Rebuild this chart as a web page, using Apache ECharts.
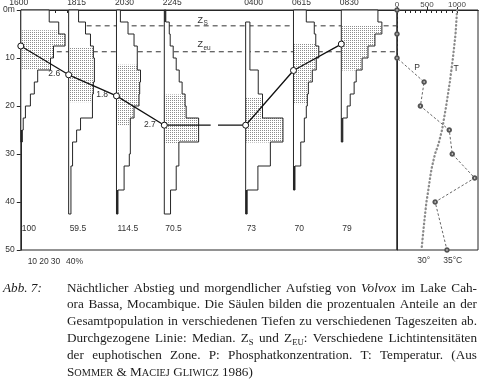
<!DOCTYPE html>
<html><head><meta charset="utf-8">
<script src="https://cdn.jsdelivr.net/npm/echarts@6.0.0/dist/echarts.min.js"></script>
<style>html,body{margin:0;padding:0;background:#fff;}#chart{width:480px;height:381px;}</style>
</head><body><div id="chart"></div>
<script>
// ---------------- data ----------------
const times = ['1600', '1815', '2030', '2245', '0400', '0615', '0830'];
const totals = ['100', '59.5', '114.5', '70.5', '73', '70', '79'];
const binSize = 2.5; // m per depth class
// share of population per 2.5 m depth class, from 0 m downwards (scale units = %)
const share1600 = [24.6, 32.8, 38.3, 28.3, 25.7, 14.6, 11.7, 8.3, 4.0, 2.1, 1.3];
const share1815 = [8.6, 14.6, 18.9, 21.4, 22.3, 22.3, 21.4, 20.6, 20.6, 10.3, 6.9, 3.4, 3.4, 2.0, 2.0, 2.0, 2.0];
const share2030 = [3.4, 10.0, 15.2, 18.0, 18.0, 20.8, 20.1, 19.5, 15.2, 12.0, 12.0, 12.0, 11.1, 6.6, 6.6, 1.3, 1.3];
const share2245 = [1.3, 4.3, 5.1, 7.7, 10.3, 12.9, 15.4, 18.0, 18.9, 29.7, 29.7, 12.6, 12.6, 10.3, 10.3, 5.4, 5.4];
const share0400 = [0, 3.7, 3.7, 3.7, 3.7, 10.9, 10.9, 14.6, 14.6, 32.3, 32.3, 21.4, 21.4, 10.6, 10.6, 1.3, 1.3];
const share0615 = [11.1, 18.0, 19.3, 21.9, 19.7, 16.3, 12.9, 12.0, 11.1, 9.4, 9.4, 6.3, 6.3, 1.3, 1.3];
const share0830 = [31.7, 35.1, 29.1, 23.1, 18.0, 12.9, 11.1, 7.7, 5.1, 1.3, 1.3];
const quartileDepths = [[4.2, 12.4], [7.9, 19.2], [11.4, 24.1], [17.6, 27.8], [18.2, 27.6], [7.0, 19.6], [3.3, 12.6]];
const medianDepth = [7.5, 13.5, 17.9, 24.0, 24.0, 12.6, 7.1];
const medianRate = ['', '2.6', '1.8', '2.7', '', '', ''];
const zsDepth = 3.3;
const zeuDepth = 8.7;
const phosDepth = [0, 5, 10, 15, 20, 25, 30, 35, 40, 50];
const phosValue = [0, 0, 0, 452, 390, 871, 921, 1295, 636, 833];
const tempDepth = [0, 5, 10, 15, 20, 25, 28, 30, 33, 35, 38, 40, 45, 50];
const tempValue = [37.0, 36.7, 36.2, 35.6, 34.9, 34.1, 33.4, 32.75, 32.1, 31.8, 31.4, 31.1, 30.6, 30.15];
const pctTicks = [10, 20, 30, 40];
const phosTicks = [0, 500, 1000];
const tempTicks = [27, 28, 29, 30, 31, 32, 33, 34, 35, 36, 37];
const tempLabels = ['30°', '35°C'];
const capLines = [
  'Nächtlicher Abstieg und morgendlicher Aufstieg von *Volvox* im Lake Cah-',
  'ora Bassa, Mocambique. Die Säulen bilden die prozentualen Anteile an der',
  'Gesamtpopulation in verschiedenen Tiefen zu verschiedenen Tageszeiten ab.',
  'Durchgezogene Linie: Median. Z_S und Z_EU: Verschiedene Lichtintensitäten',
  'der euphotischen Zone. P: Phosphatkonzentration. T: Temperatur. (Aus',
  '^Sommer & ^Maciej ^Gliwicz 1986)'
];
const capLabel = 'Abb. 7:';

// ---------------- layout helpers ----------------
const profiles = [share1600, share1815, share2030, share2245, share0400, share0615, share0830];
const colStep = 41.4, nightGap = 29;
function colBase(i) { return i * colStep + (i >= 4 ? nightGap : 0); }
const X_MAX = 325.6;
const SANS = '"Liberation Sans", Arial, sans-serif';
const INK = '#262626';

// stipple pattern (fine dots)
const pc = document.createElement('canvas');
pc.width = 2; pc.height = 2;
(function () {
  const g = pc.getContext('2d');
  g.fillStyle = '#fff'; g.fillRect(0, 0, 2, 2);
  g.fillStyle = '#8c8c8c';
  g.fillRect(0, 0, 1, 1);
})();
const stipple = { image: pc, repeat: 'repeat' };

function txt(x, y, text, size, align, extra) {
  return Object.assign({
    type: 'text', x: x, y: y, silent: true,
    style: { text: text, font: size + 'px ' + SANS, fill: '#333', align: align, verticalAlign: 'middle', textAlign: align, textVerticalAlign: 'middle' }
  }, extra || {});
}

function renderColumn(params, api) {
  const i = params.dataIndex;
  const base = colBase(i);
  const w = profiles[i];
  const ch = [];
  let first = 0; while (first < w.length && !(w[first] > 0)) first++;
  let last = w.length - 1; while (last >= 0 && !(w[last] > 0)) last--;
  for (let b = first; b <= last; b++) {
    const p0 = api.coord([base, b * binSize]);
    const p1 = api.coord([base + w[b], (b + 1) * binSize]);
    ch.push({ type: 'rect', shape: { x: p0[0], y: p0[1], width: p1[0] - p0[0], height: p1[1] - p0[1] }, style: { fill: '#fff' } });
  }
  const q = quartileDepths[i];
  for (let b = first; b <= last; b++) {
    const s = Math.max(q[0], b * binSize), e = Math.min(q[1], (b + 1) * binSize);
    if (e > s) {
      const p0 = api.coord([base, s]);
      const p1 = api.coord([base + w[b], e]);
      ch.push({ type: 'rect', shape: { x: p0[0], y: p0[1], width: p1[0] - p0[0], height: p1[1] - p0[1] }, style: { fill: stipple } });
    }
  }
  const pts = [api.coord([base, first * binSize])];
  for (let b = first; b <= last; b++) {
    pts.push(api.coord([base + w[b], b * binSize]));
    pts.push(api.coord([base + w[b], (b + 1) * binSize]));
  }
  pts.push(api.coord([base, (last + 1) * binSize]));
  ch.push({ type: 'polygon', shape: { points: pts }, style: { fill: 'none', stroke: INK, lineWidth: 1 } });
  for (let b = first; b <= last; b++) {
    if (w[b] < 1.5) {
      const p0 = api.coord([base, b * binSize]);
      const p1 = api.coord([base + w[b], (b + 1) * binSize]);
      ch.push({ type: 'rect', shape: { x: p0[0], y: p0[1], width: Math.max(1.5, p1[0] - p0[0]), height: p1[1] - p0[1] }, style: { fill: '#222' } });
    }
  }
  const tp = api.coord([base, 0]);
  ch.push(txt(i === 0 ? tp[0] - 2 : tp[0] - 1.5, 2.5, times[i], 8.5, i === 0 ? 'center' : 'left'));
  const bp = api.coord([base, 45.5]);
  ch.push(txt(bp[0] + 1, bp[1], totals[i], 8.5, 'left'));
  return { type: 'group', children: ch };
}

const gapA = colBase(3) + 0.57 * (colBase(4) - colBase(3));
const gapB = colBase(3) + 0.66 * (colBase(4) - colBase(3));
function medPoint(i) {
  const item = { value: [colBase(i), medianDepth[i]] };
  if (medianRate[i]) item.label = { show: true, formatter: medianRate[i] };
  return item;
}
const medEvening = [0, 1, 2, 3].map(medPoint).concat([{ value: [gapA, medianDepth[3]], symbol: 'none' }]);
const medMorning = [{ value: [gapB, medianDepth[4]], symbol: 'none' }].concat([4, 5, 6].map(medPoint));
const medStyle = {
  type: 'line', xAxisIndex: 0, yAxisIndex: 0, z: 5, symbol: 'circle', symbolSize: 6,
  itemStyle: { color: '#fff', borderColor: '#111', borderWidth: 1 },
  lineStyle: { color: '#111', width: 1.3 },
  label: { show: false, position: 'left', distance: 5, offset: [0, -1], fontSize: 8.5, fontFamily: SANS, color: '#333' },
  animation: false
};

const chart = echarts.init(document.getElementById('chart'), null, { renderer: 'canvas', width: 480, height: 381 });
const axisLine = { show: true, lineStyle: { color: INK, width: 1 } };
chart.setOption({
  animation: false,
  textStyle: { fontFamily: SANS },
  grid: [
    { left: 17, right: 83, top: 10, bottom: 131, show: true, borderColor: INK, borderWidth: 1, backgroundColor: 'transparent' },
    { left: 397, right: 2, top: 10, bottom: 131, show: true, borderColor: INK, borderWidth: 1, backgroundColor: 'transparent' }
  ],
  xAxis: [
    { gridIndex: 0, type: 'value', min: 0, max: X_MAX, position: 'bottom', axisLine: axisLine,
      axisTick: { show: true, customValues: pctTicks, length: 3, lineStyle: { color: INK } },
      axisLabel: { show: false }, splitLine: { show: false } },
    { gridIndex: 1, type: 'value', min: 25.44, max: 41.02, position: 'bottom', axisLine: axisLine,
      axisTick: { show: true, customValues: tempTicks, length: 3, lineStyle: { color: INK } },
      axisLabel: { show: false }, splitLine: { show: false } },
    { gridIndex: 1, type: 'value', min: 0, max: 1350, position: 'top', axisLine: axisLine,
      axisTick: { show: true, customValues: phosTicks, length: 3, lineStyle: { color: INK } },
      axisLabel: { show: true, customValues: phosTicks, fontSize: 8, margin: 1, color: '#444', formatter: v => String(v) }, splitLine: { show: false } }
  ],
  yAxis: [
    { gridIndex: 0, type: 'value', inverse: true, min: 0, max: 50, interval: 10, axisLine: axisLine,
      axisTick: { show: true, length: 4, lineStyle: { color: INK } },
      axisLabel: { fontSize: 8.5, margin: 6, color: '#333', formatter: v => v === 0 ? '0m' : String(v) },
      splitLine: { show: false } },
    { gridIndex: 1, type: 'value', inverse: true, min: 0, max: 50, axisLine: axisLine,
      axisTick: { show: false }, axisLabel: { show: false }, splitLine: { show: false } }
  ],
  series: [
    { type: 'line', xAxisIndex: 0, yAxisIndex: 0, z: 1, symbol: 'none', silent: true,
      data: [[colBase(1), zsDepth], [X_MAX, zsDepth]], lineStyle: { color: '#333', width: 1, type: [5, 4] } },
    { type: 'line', xAxisIndex: 0, yAxisIndex: 0, z: 1, symbol: 'none', silent: true,
      data: [[colBase(0), zeuDepth], [X_MAX, zeuDepth]], lineStyle: { color: '#333', width: 1, type: [5, 4] } },
    { type: 'custom', xAxisIndex: 0, yAxisIndex: 0, z: 3, clip: false, renderItem: renderColumn,
      encode: { x: 0, y: 1 }, data: times.map((t, i) => [colBase(i), 0]) },
    Object.assign({}, medStyle, { data: medEvening }),
    Object.assign({}, medStyle, { data: medMorning }),
    { type: 'line', xAxisIndex: 1, yAxisIndex: 1, z: 4, symbol: 'none', silent: true,
      data: tempValue.map((t, k) => [t, tempDepth[k]]),
      lineStyle: { color: '#8a8a8a', width: 2.3, type: [0.5, 3.3], cap: 'round' } },
    { type: 'line', xAxisIndex: 2, yAxisIndex: 1, z: 4, symbol: 'emptyCircle', symbolSize: 3.5, silent: true,
      data: phosValue.map((p, k) => [p, phosDepth[k]]),
      itemStyle: { color: '#555', borderColor: '#555', borderWidth: 0.8 },
      lineStyle: { color: '#555', width: 0.9, type: [2.5, 2] } }
  ]
});

// ---------------- annotations & caption ----------------
const els = [];
pctTicks.forEach(v => {
  const px = chart.convertToPixel({ xAxisIndex: 0 }, v);
  if (v === 40) els.push(txt(px - 1, 261.5, v + '%', 8.5, 'left'));
  else els.push(txt(px, 261.5, String(v), 8.5, 'center'));
});
[30, 35].forEach((v, k) => {
  const px = chart.convertToPixel({ xAxisIndex: 1 }, v);
  els.push(txt(px - 3.5, 261, tempLabels[k], 8.5, 'left'));
});
els.push(txt(417, 68, 'P', 8.5, 'center'));
els.push(txt(456, 69, 'T', 8.5, 'center'));
const zsY = chart.convertToPixel({ yAxisIndex: 0 }, zsDepth);
const zeuY = chart.convertToPixel({ yAxisIndex: 0 }, zeuDepth);
els.push(txt(197.5, zsY - 5.5, 'Z', 9, 'left'));
els.push(txt(203.5, zsY - 2.5, 'S', 6.5, 'left'));
els.push(txt(197.5, zeuY - 7, 'Z', 9, 'left'));
els.push(txt(203.5, zeuY - 4, 'eu', 6.5, 'left'));

const SERIF = '"Liberation Serif", "Times New Roman", serif';
const mctx = document.createElement('canvas').getContext('2d');
function parseWord(w, s) {
  if (w.length > 2 && w[0] === '*' && w[w.length - 1] === '*') return [{ t: w.slice(1, -1), it: true, s: s, dy: 0 }];
  if (w[0] === '^') { const r = w.slice(1); return [{ t: r[0], s: s, dy: 0 }, { t: r.slice(1).toUpperCase(), s: s * 0.78, dy: 0 }]; }
  const m = w.match(/^([^_]*)_([A-Za-z]+)(.*)$/);
  if (m) {
    const out = [{ t: m[1], s: s, dy: 0 }, { t: m[2], s: s * 0.66, dy: 3 }];
    if (m[3]) out.push({ t: m[3], s: s, dy: 0 });
    return out;
  }
  return [{ t: w, s: s, dy: 0 }];
}
function fontOf(g) { return (g.it ? 'italic ' : '') + g.s.toFixed(2) + 'px ' + SERIF; }
function segW(g) { mctx.font = fontOf(g); return mctx.measureText(g.t).width; }
function wordW(w, s) { return parseWord(w, s).reduce((a, g) => a + segW(g), 0); }
const L = 67, R = 477, B0 = 292, LH = 16.9;
let size = 13.2;
capLines.forEach((ln, k) => {
  if (k === capLines.length - 1) return;
  const ws = ln.split(' ');
  const sum = ws.reduce((a, w) => a + wordW(w, 13.2), 0);
  const fit = 13.2 * (R - L - (ws.length - 1) * 2.6) / sum;
  if (fit < size) size = fit;
});
function placeSegs(segs, x, base) {
  segs.forEach(g => {
    els.push({ type: 'text', x: x, y: base - 0.3 * g.s + g.dy, silent: true,
      style: { text: g.t, font: fontOf(g), fill: '#1c1c1c', align: 'left', verticalAlign: 'middle', textAlign: 'left', textVerticalAlign: 'middle' } });
    x += segW(g);
  });
  return x;
}
placeSegs(parseWord('*' + capLabel + '*', size), 3, B0);
capLines.forEach((ln, k) => {
  const base = B0 + k * LH;
  const ws = ln.split(' ');
  const widths = ws.map(w => wordW(w, size));
  const sum = widths.reduce((a, b) => a + b, 0);
  const justify = k < capLines.length - 1;
  const gap = justify ? (R - L - sum) / (ws.length - 1) : size * 0.25;
  let x = L;
  ws.forEach((w, j) => { placeSegs(parseWord(w, size), x, base); x += widths[j] + gap; });
});
chart.setOption({ graphic: { elements: els } });
</script></body></html>
